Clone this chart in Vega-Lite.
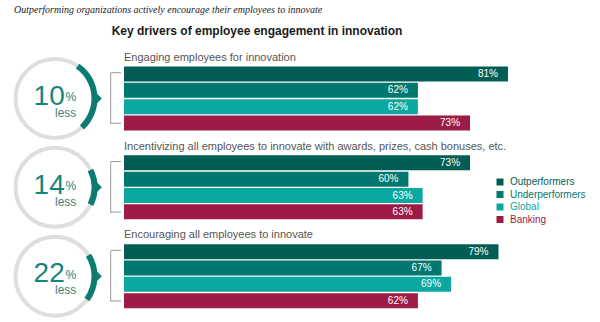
{
  "$schema": "https://vega.github.io/schema/vega-lite/v6.json",
  "width": 600,
  "height": 322,
  "autosize": "none",
  "padding": 0,
  "background": "white",
  "config": {"view": {"stroke": null}, "font": "Liberation Sans"},
  "datasets": {
    "bars": [
      {"question": "Engaging employees for innovation", "group": "Outperformers", "value": 0.81},
      {"question": "Engaging employees for innovation", "group": "Underperformers", "value": 0.62},
      {"question": "Engaging employees for innovation", "group": "Global", "value": 0.62},
      {"question": "Engaging employees for innovation", "group": "Banking", "value": 0.73},
      {"question": "Incentivizing all employees to innovate with awards, prizes, cash bonuses, etc.", "group": "Outperformers", "value": 0.73},
      {"question": "Incentivizing all employees to innovate with awards, prizes, cash bonuses, etc.", "group": "Underperformers", "value": 0.60},
      {"question": "Incentivizing all employees to innovate with awards, prizes, cash bonuses, etc.", "group": "Global", "value": 0.63},
      {"question": "Incentivizing all employees to innovate with awards, prizes, cash bonuses, etc.", "group": "Banking", "value": 0.63},
      {"question": "Encouraging all employees to innovate", "group": "Outperformers", "value": 0.79},
      {"question": "Encouraging all employees to innovate", "group": "Underperformers", "value": 0.67},
      {"question": "Encouraging all employees to innovate", "group": "Global", "value": 0.69},
      {"question": "Encouraging all employees to innovate", "group": "Banking", "value": 0.62}
    ],
    "panels": [
      {"question": "Engaging employees for innovation", "gap": "10", "arcStart": 35, "arcEnd": 137},
      {"question": "Incentivizing all employees to innovate with awards, prizes, cash bonuses, etc.", "gap": "14", "arcStart": 64, "arcEnd": 116},
      {"question": "Encouraging all employees to innovate", "gap": "22", "arcStart": 58, "arcEnd": 126}
    ]
  },
  "layer": [
    {
      "data": {"name": "panels"},
      "mark": {"type": "point", "shape": "circle", "filled": false, "size": 6241, "stroke": "#dedede", "strokeWidth": 4, "opacity": 1},
      "encoding": {
        "x": {"datum": -0.1456, "type": "quantitative", "scale": {"domain": [-0.2616, 1.0042], "nice": false, "zero": false}, "axis": null},
        "y": {"field": "question", "type": "nominal", "scale": {"type": "band", "domain": ["Engaging employees for innovation", "Incentivizing all employees to innovate with awards, prizes, cash bonuses, etc.", "Encouraging all employees to innovate"], "paddingInner": 0.2797, "paddingOuter": 0.4519, "align": 0.828}, "axis": null}
      }
    },
    {
      "data": {"name": "panels"},
      "mark": {"type": "arc", "radius": 42.5, "radius2": 36.5, "color": "#0c7b72"},
      "encoding": {
        "x": {"datum": -0.1456, "type": "quantitative"},
        "y": {"field": "question", "type": "nominal"},
        "theta": {"field": "arcStart", "type": "quantitative", "stack": null, "scale": {"domain": [0, 360], "range": [0, 6.2832]}},
        "theta2": {"field": "arcEnd"}
      }
    },
    {
      "data": {"name": "panels"},
      "mark": {"type": "point", "shape": "M -0.5 -1 L 0.5 0 L -0.5 1 Z", "filled": true, "size": 196, "color": "#0c7b72", "opacity": 1},
      "encoding": {
        "x": {"datum": -0.0542, "type": "quantitative"},
        "y": {"field": "question", "type": "nominal"}
      }
    },
    {
      "data": {"name": "panels"},
      "mark": {"type": "tick", "orient": "vertical", "size": 50.6, "thickness": 1, "color": "#9a9a9a", "opacity": 1},
      "encoding": {
        "x": {"datum": -0.0281, "type": "quantitative"},
        "y": {"field": "question", "type": "nominal"}
      }
    },
    {
      "data": {"name": "panels"},
      "mark": {"type": "rule", "color": "#9a9a9a", "strokeWidth": 1},
      "encoding": {
        "x": {"datum": -0.0281, "type": "quantitative"},
        "x2": {"datum": -0.0063},
        "y": {"field": "question", "type": "nominal", "bandPosition": 0.097}
      }
    },
    {
      "data": {"name": "panels"},
      "mark": {"type": "rule", "color": "#9a9a9a", "strokeWidth": 1},
      "encoding": {
        "x": {"datum": -0.0281, "type": "quantitative"},
        "x2": {"datum": -0.0063},
        "y": {"field": "question", "type": "nominal", "bandPosition": 0.887}
      }
    },
    {
      "data": {"name": "bars"},
      "mark": {"type": "bar"},
      "encoding": {
        "x": {"field": "value", "type": "quantitative"},
        "y": {"field": "question", "type": "nominal"},
        "yOffset": {"field": "group", "type": "nominal", "scale": {"domain": ["Outperformers", "Underperformers", "Global", "Banking"], "paddingInner": 0.082, "paddingOuter": 0}},
        "color": {
          "field": "group", "type": "nominal",
          "scale": {"domain": ["Outperformers", "Underperformers", "Global", "Banking"], "range": ["#025e55", "#00786f", "#0aa8a0", "#9c1b47"]},
          "legend": {
            "title": null, "orient": "none", "legendX": 495, "legendY": 177, "padding": 0,
            "symbolType": "square", "symbolSize": 49, "symbolStrokeWidth": 0,
            "labelFontSize": 10, "labelFont": "Liberation Sans", "rowPadding": 2.5, "labelOffset": 5,
            "encode": {"labels": {"update": {"fill": {"scale": "color", "field": "value"}}}}
          }
        }
      }
    },
    {
      "data": {"name": "bars"},
      "mark": {"type": "text", "align": "right", "baseline": "middle", "dx": -10, "fontSize": 10, "letterSpacing": -0.4, "color": "white"},
      "encoding": {
        "x": {"field": "value", "type": "quantitative"},
        "y": {"field": "question", "type": "nominal"},
        "yOffset": {"field": "group", "type": "nominal"},
        "text": {"field": "value", "type": "quantitative", "format": ".0%"}
      }
    },
    {
      "data": {"name": "panels"},
      "mark": {"type": "text", "align": "left", "baseline": "alphabetic", "dy": -5.7, "fontSize": 11, "color": "#555555"},
      "encoding": {
        "x": {"datum": 0, "type": "quantitative"},
        "y": {"field": "question", "type": "nominal", "bandPosition": 0},
        "text": {"field": "question", "type": "nominal"}
      }
    },
    {
      "data": {"name": "panels"},
      "mark": {"type": "text", "align": "right", "baseline": "alphabetic", "dy": 6.2, "fontSize": 28, "letterSpacing": -1.5, "color": "#15867d"},
      "encoding": {
        "x": {"datum": -0.125, "type": "quantitative"},
        "y": {"field": "question", "type": "nominal"},
        "text": {"field": "gap", "type": "nominal"}
      }
    },
    {
      "data": {"name": "panels"},
      "mark": {"type": "text", "align": "left", "baseline": "alphabetic", "dy": 3, "fontSize": 12, "color": "#15867d"},
      "encoding": {
        "x": {"datum": -0.1234, "type": "quantitative"},
        "y": {"field": "question", "type": "nominal"},
        "text": {"value": "%"}
      }
    },
    {
      "data": {"name": "panels"},
      "mark": {"type": "text", "align": "left", "baseline": "alphabetic", "dy": 18.3, "fontSize": 12, "color": "#4a7d79"},
      "encoding": {
        "x": {"datum": -0.1456, "type": "quantitative"},
        "y": {"field": "question", "type": "nominal"},
        "text": {"value": "less"}
      }
    },
    {
      "data": {"values": [{"question": "Engaging employees for innovation", "heading": "Outperforming organizations actively encourage their employees to innovate"}]},
      "mark": {"type": "text", "align": "left", "baseline": "alphabetic", "dy": -53.2, "fontSize": 10, "font": "Liberation Serif", "fontStyle": "italic", "color": "#222222"},
      "encoding": {
        "x": {"datum": -0.2321, "type": "quantitative"},
        "y": {"field": "question", "type": "nominal", "bandPosition": 0},
        "text": {"field": "heading", "type": "nominal"}
      }
    },
    {
      "data": {"values": [{"question": "Engaging employees for innovation", "heading": "Key drivers of employee engagement in innovation"}]},
      "mark": {"type": "text", "align": "center", "baseline": "alphabetic", "dy": -31.5, "fontSize": 12, "letterSpacing": -0.4, "fontWeight": "bold", "color": "#1a1a1a"},
      "encoding": {
        "x": {"datum": 0.2806, "type": "quantitative"},
        "y": {"field": "question", "type": "nominal", "bandPosition": 0},
        "text": {"field": "heading", "type": "nominal"}
      }
    }
  ]
}
